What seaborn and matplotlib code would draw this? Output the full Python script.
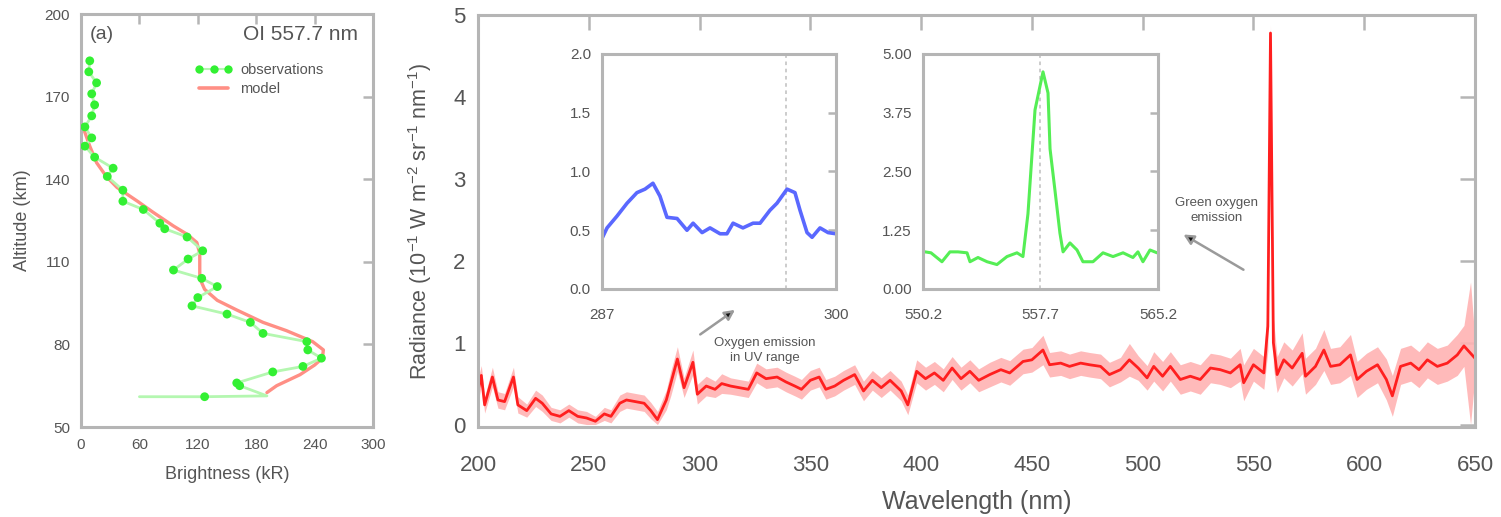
import matplotlib
matplotlib.use("Agg")
import matplotlib.pyplot as plt
import seaborn as sns
import numpy as np
import pandas as pd
from matplotlib.lines import Line2D

# ---------------- data ----------------
# (a) OI 557.7 nm vertical profile
obs_altitude = [183, 179, 175, 171, 167, 163, 159, 155, 152, 148, 144, 141, 136, 132,
                129, 124, 122, 119, 114, 111, 107, 104, 101, 97, 94, 91, 88, 84, 81,
                78, 75, 72, 70, 66, 65, 61]
obs_brightness = [9, 8, 16, 11, 14, 11, 4, 11, 4, 14, 33, 27, 43, 43,
                  64, 81, 86, 109, 125, 110, 95, 124, 140, 120, 114, 150, 174, 187, 232,
                  233, 247, 228, 197, 160, 163, 127]
obs_tail_altitude = [61.3, 61, 61]
obs_tail_brightness = [191, 127, 60]

model_altitude = [160, 157, 152, 146, 141, 137, 132, 128, 123, 120, 117, 113, 108, 104,
                  100, 96, 92.5, 88, 85, 81, 78, 75, 72.5, 69, 65, 62.5]
model_brightness = [0, 4, 9, 16, 26, 37, 58, 74, 95, 109, 119, 122, 122, 122,
                    127, 140, 160, 187, 211, 238, 249, 248, 240, 225, 201, 191]

# (b) spectrum
wavelength = [200, 201.5, 203, 206.5, 209, 212, 216, 218, 222, 226, 229, 233, 237, 241,
              245, 249, 253, 257, 260, 264, 267, 271, 275, 278, 281, 285, 287, 290,
              293, 297, 299, 303, 307, 310, 314, 318, 322, 325.8, 330, 335, 339, 343,
              346, 350, 354, 357, 361, 365, 370, 374, 378, 382, 386, 391, 394, 398,
              402, 406, 410, 414, 418, 422, 426, 431, 436, 440, 446, 450, 455, 458,
              463, 467, 472, 476, 481, 485, 490, 494, 498, 502, 505, 509, 512.5, 517,
              521.5, 526, 530.6, 535, 539.6, 544, 545.6, 550, 554.7, 556.5, 557.7, 559,
              560.7, 563.7, 567.5, 572, 573.5, 578, 581.8, 584.8, 589, 593.8, 596.8,
              601, 606, 610, 612.7, 616.4, 621, 624.7, 628.5, 633, 637.5, 642, 645,
              648, 650]
radiance = [0.41, 0.60, 0.24, 0.58, 0.30, 0.28, 0.58, 0.24, 0.17, 0.32, 0.26, 0.13, 0.10, 0.17,
            0.10, 0.08, 0.04, 0.13, 0.10, 0.26, 0.30, 0.28, 0.26, 0.17, 0.06, 0.30, 0.50, 0.80,
            0.45, 0.76, 0.37, 0.47, 0.43, 0.50, 0.47, 0.45, 0.43, 0.63, 0.56, 0.58, 0.52, 0.47,
            0.43, 0.54, 0.58, 0.43, 0.47, 0.54, 0.61, 0.41, 0.54, 0.45, 0.54, 0.41, 0.24, 0.65,
            0.56, 0.63, 0.54, 0.69, 0.56, 0.65, 0.54, 0.61, 0.67, 0.63, 0.77, 0.79, 0.91, 0.73,
            0.75, 0.71, 0.75, 0.73, 0.71, 0.61, 0.67, 0.79, 0.69, 0.57, 0.71, 0.59, 0.71, 0.55,
            0.59, 0.55, 0.69, 0.67, 0.63, 0.73, 0.51, 0.73, 0.63, 1.20, 4.78, 1.00,
            0.61, 0.79, 0.69, 0.87, 0.59, 0.71, 0.91, 0.71, 0.73, 0.85, 0.55,
            0.65, 0.73, 0.55, 0.35, 0.71, 0.75, 0.67, 0.79, 0.71, 0.75, 0.85, 0.96,
            0.87, 0.81]
radiance_err = [0.15, 0.12, 0.10, 0.12, 0.10, 0.10, 0.12, 0.10, 0.08, 0.10, 0.10, 0.08, 0.08, 0.08,
                0.08, 0.08, 0.06, 0.08, 0.08, 0.10, 0.10, 0.10, 0.10, 0.10, 0.10, 0.12, 0.15, 0.15,
                0.12, 0.15, 0.12, 0.12, 0.10, 0.12, 0.10, 0.10, 0.10, 0.12, 0.12, 0.12, 0.12, 0.12,
                0.12, 0.12, 0.12, 0.12, 0.12, 0.12, 0.12, 0.12, 0.12, 0.12, 0.12, 0.12, 0.12, 0.14,
                0.14, 0.14, 0.14, 0.14, 0.14, 0.14, 0.14, 0.15, 0.15, 0.15, 0.15, 0.15, 0.18, 0.15,
                0.15, 0.15, 0.15, 0.15, 0.15, 0.15, 0.15, 0.20, 0.15, 0.15, 0.18, 0.18, 0.18, 0.18,
                0.18, 0.18, 0.18, 0.18, 0.18, 0.20, 0.22, 0.20, 0.20, 0.30, 0.10, 0.30,
                0.22, 0.22, 0.22, 0.25, 0.22, 0.22, 0.25, 0.22, 0.22, 0.25, 0.22,
                0.22, 0.22, 0.25, 0.25, 0.22, 0.22, 0.22, 0.22, 0.22, 0.22, 0.25, 0.25,
                0.87, 0.22]

# inset: UV oxygen emission
uv_wavelength = [287.0, 287.28, 287.83, 288.39, 288.94, 289.39, 289.83, 290.22, 290.61, 291.17,
                 291.72, 292.06, 292.56, 293.0, 293.56, 293.94, 294.28, 294.83, 295.39, 295.78,
                 296.33, 296.72, 297.28, 297.72, 298.0, 298.39, 298.67, 299.11, 299.56, 300.0]
uv_radiance = [0.43, 0.52, 0.62, 0.73, 0.82, 0.85, 0.90, 0.79, 0.61, 0.60,
               0.50, 0.56, 0.48, 0.52, 0.47, 0.47, 0.56, 0.52, 0.56, 0.56,
               0.67, 0.73, 0.85, 0.82, 0.67, 0.48, 0.44, 0.52, 0.48, 0.47]
uv_line = 297.2

# inset: green line
gl_wavelength = [550.33, 550.71, 551.41, 551.92, 552.43, 553.01, 553.20, 553.71, 554.29, 554.92,
                 555.56, 556.20, 556.58, 556.90, 557.35, 557.86, 558.18, 558.31, 558.63, 558.94,
                 559.14, 559.58, 560.03, 560.41, 561.05, 561.69, 562.33, 562.97, 563.60, 563.92,
                 564.24, 564.69, 565.14]
gl_radiance = [0.79, 0.77, 0.58, 0.79, 0.79, 0.77, 0.58, 0.67, 0.58, 0.52,
               0.69, 0.77, 0.69, 1.60, 3.81, 4.62, 4.17, 2.98, 2.08, 1.19,
               0.79, 0.98, 0.83, 0.58, 0.58, 0.77, 0.69, 0.77, 0.67, 0.79,
               0.58, 0.83, 0.77]
gl_line = 557.7

main_xticks = [200, 250, 300, 350, 400, 450, 500, 550, 600, 650]
main_yticks = [0, 1, 2, 3, 4, 5]
prof_xticks = [0, 60, 120, 180, 240, 300]
prof_yticks = [50, 80, 110, 140, 170, 200]
uv_xticks = [287, 300]
uv_yticks = [0.0, 0.5, 1.0, 1.5, 2.0]
gl_xticks = [550.2, 557.7, 565.2]
gl_yticks = [0.0, 1.25, 2.5, 3.75, 5.0]

# ---------------- style ----------------
sns.set_style("white")
plt.rcParams["font.family"] = ["Liberation Sans", "DejaVu Sans"]
plt.rcParams["mathtext.fontset"] = "custom"
plt.rcParams["mathtext.rm"] = "Liberation Sans"
TXT = "#555555"
SPINE = "#b5b5b5"

fig = plt.figure(figsize=(15.01, 5.17), dpi=100)


def style_axes(ax, ticklen, labelsize, xpad=8, ypad=8):
    for s in ax.spines.values():
        s.set_color(SPINE)
        s.set_linewidth(2.2)
        s.set_visible(True)
    ax.tick_params(direction="in", top=True, right=True, length=ticklen, width=1.8,
                   color=SPINE, labelcolor=TXT, labelsize=labelsize)
    ax.tick_params(axis="x", pad=xpad)
    ax.tick_params(axis="y", pad=ypad)


# ---- profile panel ----
axp = fig.add_axes([0.05397, 0.17408, 0.19454, 0.79884])
prof_obs = pd.DataFrame({"b": obs_brightness, "alt": obs_altitude})
obs_line = pd.DataFrame({"b": obs_brightness[:-1] + obs_tail_brightness,
                         "alt": obs_altitude[:-1] + obs_tail_altitude})
prof_model = pd.DataFrame({"b": model_brightness, "alt": model_altitude})
sns.lineplot(data=prof_model, x="b", y="alt", sort=False, estimator=None,
             color="#ff8f85", lw=2.4, ax=axp)
sns.lineplot(data=obs_line, x="b", y="alt", sort=False, estimator=None,
             color="#b4f7b0", lw=2.0, ax=axp)
sns.scatterplot(data=prof_obs, x="b", y="alt", color="#33f033", marker="o", s=40,
                edgecolor="none", ax=axp, zorder=5)
axp.set_xlim(0, 300)
axp.set_ylim(50, 200)
axp.set_xticks(prof_xticks)
axp.set_yticks(prof_yticks)
style_axes(axp, 7, 11)
axp.set_xlabel("Brightness (kR)", color=TXT, fontsize=13, labelpad=10)
axp.set_ylabel("Altitude (km)", color=TXT, fontsize=13, labelpad=10)
axp.text(0.03, 0.95, "(a)", transform=axp.transAxes, color=TXT, fontsize=14,
         ha="left", va="center")
axp.text(0.95, 0.95, "OI 557.7 nm", transform=axp.transAxes, color=TXT, fontsize=15,
         ha="right", va="center")
handles = [Line2D([], [], color="#b4f7b0", lw=1.5, marker="o", markersize=6,
                  markerfacecolor="#33f033", markeredgecolor="none"),
           Line2D([], [], color="#ff8f85", lw=2.6)]
axp.legend(handles, ["observations", "model"], loc="upper left",
           bbox_to_anchor=(0.37, 0.895), frameon=False, fontsize=10.5,
           labelcolor=TXT, numpoints=3, handlelength=2.6, handletextpad=0.5,
           borderaxespad=0, labelspacing=0.35)

# ---- spectrum panel ----
axm = fig.add_axes([0.31845, 0.17408, 0.66422, 0.79691])
spec = pd.DataFrame({"wl": wavelength, "rad": radiance})
lower = [max(r - e, 0.0) for r, e in zip(radiance, radiance_err)]
upper = [r + e for r, e in zip(radiance, radiance_err)]
axm.fill_between(wavelength, lower, upper, color="#ffb3b3", lw=0, alpha=0.9)
sns.lineplot(data=spec, x="wl", y="rad", sort=False, estimator=None,
             color="#ff1f1f", lw=2.0, ax=axm)
axm.set_xlim(200, 650)
axm.set_ylim(-0.03, 5.0)
axm.set_xticks(main_xticks)
axm.set_yticks(main_yticks)
style_axes(axm, 11, 16, xpad=20, ypad=9)
axm.set_xlabel("Wavelength (nm)", color=TXT, fontsize=18, labelpad=10)
axm.set_ylabel(r"Radiance (10$^{-1}$ W m$^{-2}$ sr$^{-1}$ nm$^{-1}$)", color=TXT,
               fontsize=15.5, labelpad=14)

arrow_kw = dict(arrowstyle="-|>,head_length=0.6,head_width=0.3", color="#9a9a9a",
                lw=1.8, shrinkA=0, shrinkB=0)
axm.annotate("", xy=(518.4, 2.32), xytext=(545.5, 1.89), arrowprops=dict(arrow_kw, fc="#111111"))
axm.text(533.3, 2.61, "Green oxygen\nemission", ha="center", va="center",
         fontsize=9.5, color=TXT, linespacing=1.35)
axm.annotate("", xy=(316.0, 1.40), xytext=(300.3, 1.10), arrowprops=dict(arrow_kw, fc="#111111"))
axm.text(329.6, 0.90, "Oxygen emission\nin UV range", ha="center", va="center",
         fontsize=9.5, color=TXT, linespacing=1.35)

# ---- inset UV ----
ax1 = fig.add_axes([0.40107, 0.44101, 0.15590, 0.45455])
uv = pd.DataFrame({"wl": uv_wavelength, "rad": uv_radiance})
ax1.axvline(uv_line, color="#c8c8c8", lw=1.3, ls=(0, (2, 2)))
sns.lineplot(data=uv, x="wl", y="rad", sort=False, estimator=None,
             color="#5a68ff", lw=2.6, ax=ax1)
ax1.set_xlim(287, 300)
ax1.set_ylim(0, 2.0)
ax1.set_xticks(uv_xticks)
ax1.set_yticks(uv_yticks)
ax1.set_yticklabels([f"{v:.1f}" for v in uv_yticks])
style_axes(ax1, 6, 11, xpad=14, ypad=8)
ax1.tick_params(top=False)
ax1.set_xlabel("")
ax1.set_ylabel("")

# ---- inset green ----
ax2 = fig.add_axes([0.61492, 0.44101, 0.15656, 0.45455])
gl = pd.DataFrame({"wl": gl_wavelength, "rad": gl_radiance})
ax2.axvline(gl_line, color="#c8c8c8", lw=1.3, ls=(0, (2, 2)))
sns.lineplot(data=gl, x="wl", y="rad", sort=False, estimator=None,
             color="#55ee55", lw=2.2, ax=ax2)
ax2.set_xlim(550.2, 565.2)
ax2.set_ylim(0, 5.0)
ax2.set_xticks(gl_xticks)
ax2.set_xticklabels([f"{v:.1f}" for v in gl_xticks])
ax2.set_yticks(gl_yticks)
ax2.set_yticklabels([f"{v:.2f}" for v in gl_yticks])
style_axes(ax2, 6, 11, xpad=14, ypad=8)
ax2.tick_params(top=False)
ax2.set_xlabel("")
ax2.set_ylabel("")

fig.savefig("out.png", dpi=100)
